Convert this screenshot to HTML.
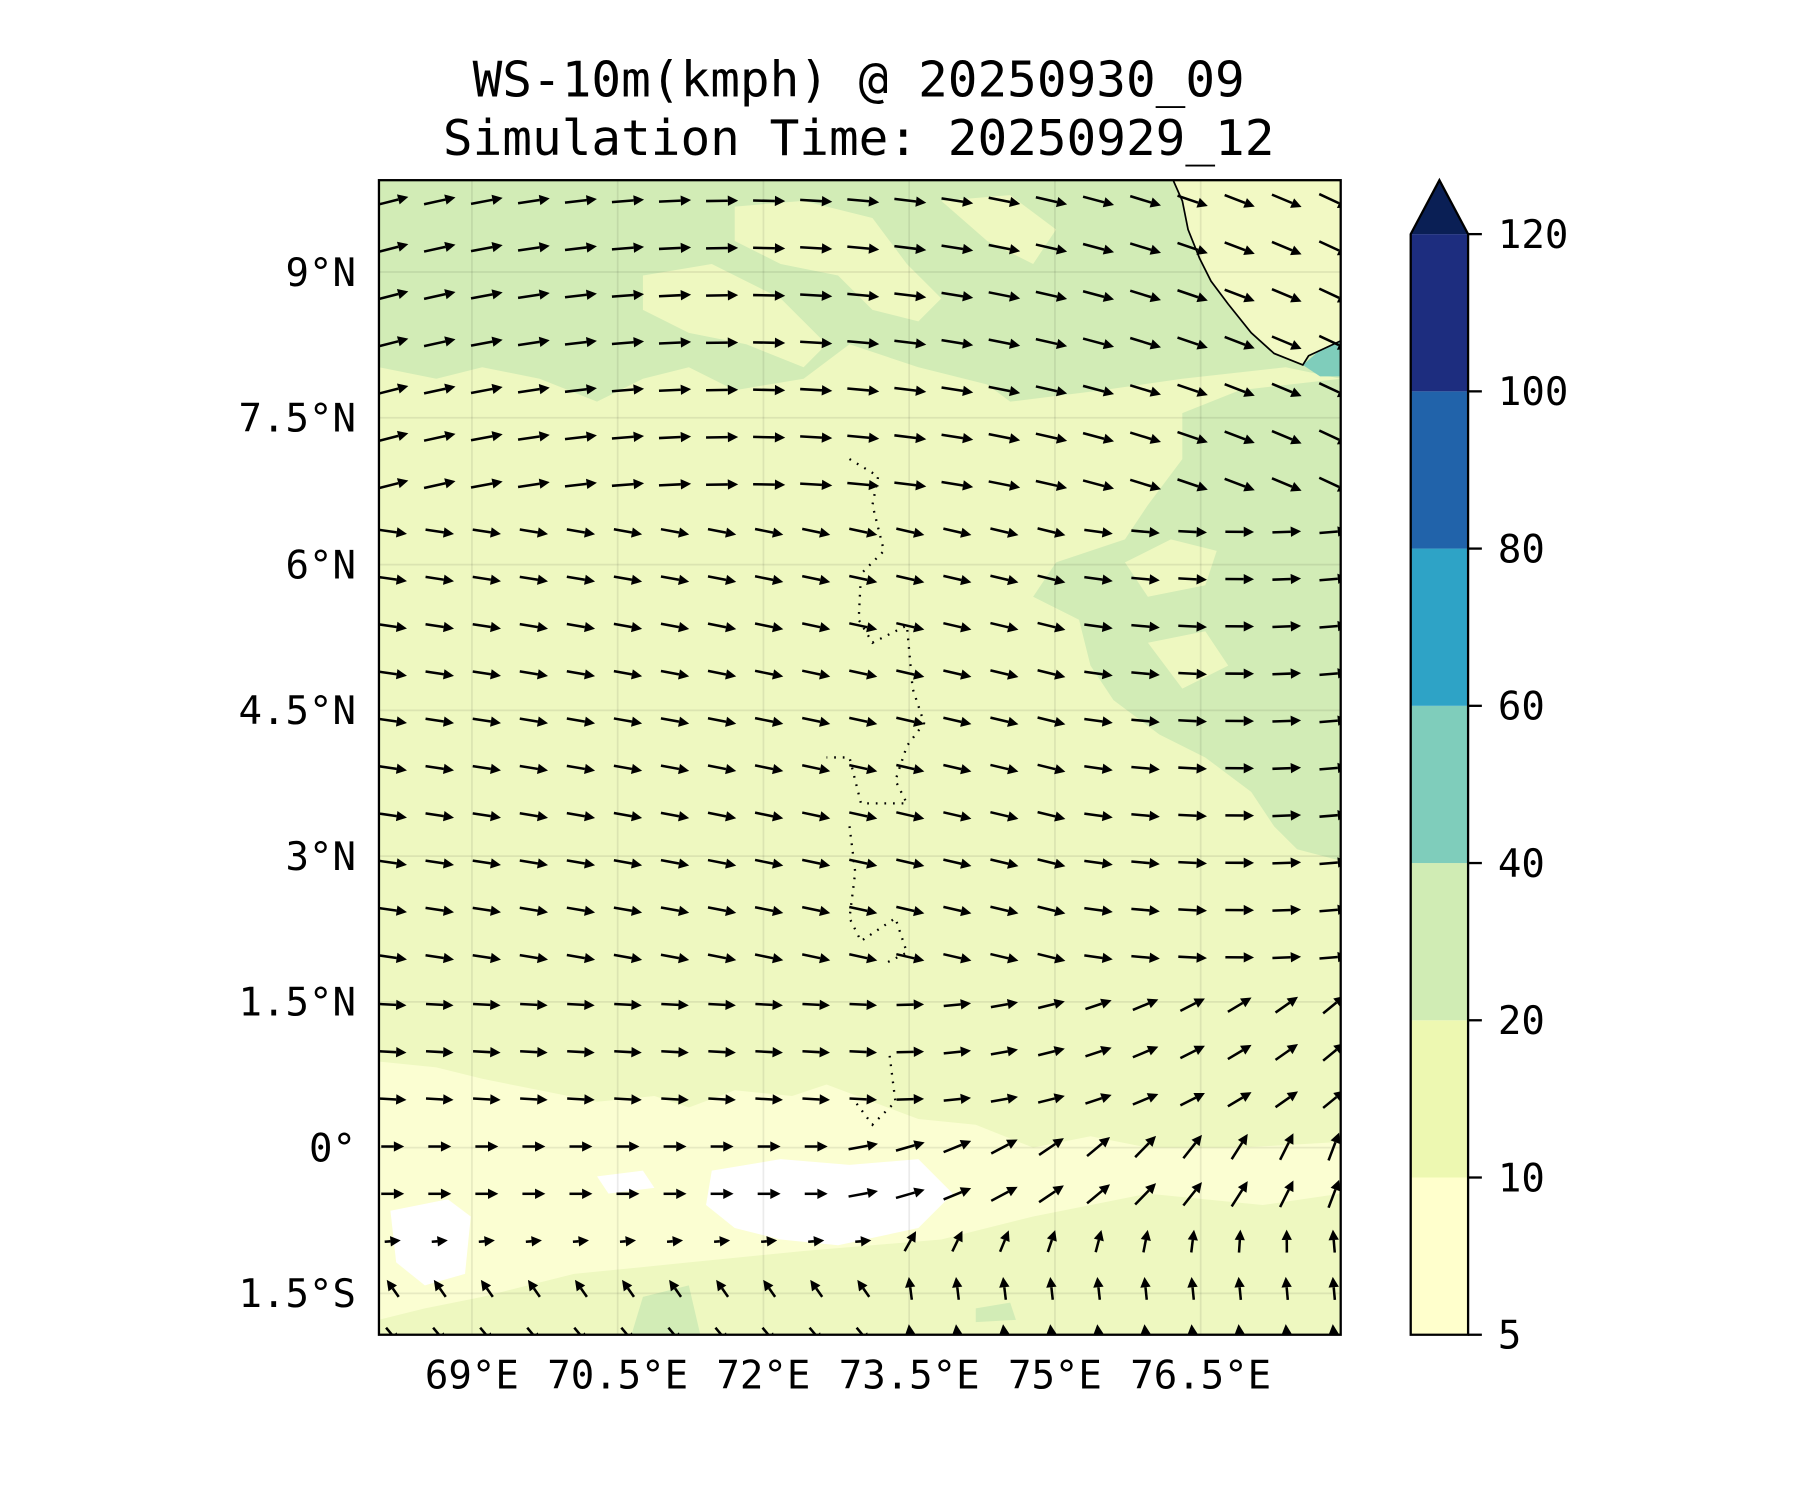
<!DOCTYPE html>
<html><head><meta charset="utf-8"><style>html,body{margin:0;padding:0;background:#fff}svg{display:block}text{font-family:"DejaVu Sans Mono","Liberation Mono",monospace;fill:#000}</style></head>
<body>
<svg id="s" width="1800" height="1500" viewBox="0 0 1568 1307" xmlns="http://www.w3.org/2000/svg">
<rect width="1568" height="1307" fill="#fff"/>
<text x="748" y="84" font-size="43" text-anchor="middle">WS-10m(kmph) @ 20250930_09</text>
<text x="748" y="135" font-size="43" text-anchor="middle">Simulation Time: 20250929_12</text>
<defs><clipPath id="cp"><rect x="330" y="157" width="838" height="1006"/></clipPath></defs>
<g clip-path="url(#cp)">
<rect x="330" y="157" width="838" height="1006" fill="#eef8c0"/>
<path d="M330 157 L1168 157 L1168 330 L1120 320 L1030 330 L960 340 L880 350 L860 335 L800 320 L740 300 L700 330 L640 340 L600 320 L560 330 L520 350 L470 330 L420 320 L380 330 L330 320 Z" fill="#d2ecb6"/>
<path d="M640 180 L700 175 L760 190 L790 230 L820 260 L800 280 L760 270 L730 240 L680 230 L640 210 Z" fill="#eef8c0"/>
<path d="M560 240 L620 230 L680 260 L720 300 L700 320 L650 300 L600 290 L560 270 Z" fill="#eef8c0"/>
<path d="M820 175 L880 170 L920 200 L900 230 L860 210 Z" fill="#eef8c0"/>
<path d="M1070 170 L1100 175 L1120 230 L1110 260 L1080 240 Z" fill="#eef8c0"/>
<path d="M1168 330 L1168 750 L1130 740 L1110 720 L1090 690 L1050 660 L1010 640 L970 610 L950 580 L940 540 L900 520 L920 490 L980 470 L1000 440 L1030 400 L1030 360 L1080 340 Z" fill="#d2ecb6"/>
<path d="M980 490 L1020 470 L1060 480 L1050 510 L1000 520 Z" fill="#eef8c0"/>
<path d="M1000 560 L1050 550 L1070 580 L1030 600 Z" fill="#eef8c0"/>
<path d="M560 1130 L600 1120 L610 1163 L550 1163 Z" fill="#d2ecb6"/>
<path d="M850 1140 L880 1135 L885 1150 L850 1152 Z" fill="#d2ecb6"/>
<path d="M330 925 L380 930 L420 940 L470 950 L520 960 L570 955 L600 965 L640 950 L690 955 L720 945 L760 960 L800 975 L850 980 L900 1000 L950 990 L1000 1000 L1080 1000 L1168 995 L1168 1040 L1100 1050 L1000 1040 L900 1060 L820 1080 L700 1090 L600 1100 L500 1110 L420 1130 L370 1140 L330 1150 Z" fill="#fbfed2"/>
<path d="M620 1020 L680 1010 L740 1015 L800 1010 L830 1040 L800 1070 L730 1085 L680 1080 L640 1070 L615 1050 Z" fill="#fff"/>
<path d="M340 1055 L390 1045 L410 1060 L405 1110 L370 1120 L345 1100 Z" fill="#fff"/>
<path d="M520 1025 L560 1020 L570 1035 L530 1040 Z" fill="#fff"/>
<path d="M1022 157 L1030 175 L1035 200 L1045 225 L1055 245 L1070 265 L1090 290 L1110 308 L1135 318 L1140 310 L1168 297 L1168 157 Z" fill="#f2f9c4"/>
<path d="M1135 318 L1150 305 L1168 298 L1168 328 L1150 328 Z" fill="#7fcdbb"/>
<path d="M1022 157 L1030 175 L1035 200 L1045 225 L1055 245 L1070 265 L1090 290 L1110 308 L1135 318 L1140 310 L1168 297" fill="none" stroke="#000" stroke-width="1.5"/>
<path d="M740 400 L765 415 L760 440 L770 480 L750 500 L748 540 L760 560 L790 545 L795 600 L805 630 L790 650 L780 680 L790 700 L750 700 L740 660 L720 660 M740 720 L745 760 L740 800 L750 820 L780 800 L790 830 L770 840 M775 920 L780 960 L760 980 L745 960" fill="none" stroke="#000" stroke-width="2" stroke-dasharray="1.5 6"/>
<g stroke="#000" stroke-opacity="0.08" stroke-width="1.5">
<line x1="411" y1="157" x2="411" y2="1163"/><line x1="538" y1="157" x2="538" y2="1163"/><line x1="665" y1="157" x2="665" y2="1163"/><line x1="792" y1="157" x2="792" y2="1163"/><line x1="919" y1="157" x2="919" y2="1163"/><line x1="1046" y1="157" x2="1046" y2="1163"/>
<line x1="330" y1="237" x2="1168" y2="237"/><line x1="330" y1="364" x2="1168" y2="364"/><line x1="330" y1="492" x2="1168" y2="492"/><line x1="330" y1="619" x2="1168" y2="619"/><line x1="330" y1="746" x2="1168" y2="746"/><line x1="330" y1="873" x2="1168" y2="873"/><line x1="330" y1="1000" x2="1168" y2="1000"/><line x1="330" y1="1127" x2="1168" y2="1127"/>
</g>
<g id="arr"></g>
</g>
<rect x="330" y="157" width="838" height="1006" fill="none" stroke="#000" stroke-width="2"/>
<g font-size="34" text-anchor="end">
<text x="310" y="249">9°N</text><text x="310" y="376">7.5°N</text><text x="310" y="504">6°N</text><text x="310" y="631">4.5°N</text><text x="310" y="758">3°N</text><text x="310" y="885">1.5°N</text><text x="310" y="1012">0°</text><text x="310" y="1139">1.5°S</text>
</g>
<g font-size="34" text-anchor="middle">
<text x="411" y="1210">69°E</text><text x="538" y="1210">70.5°E</text><text x="665" y="1210">72°E</text><text x="792" y="1210">73.5°E</text><text x="919" y="1210">75°E</text><text x="1046" y="1210">76.5°E</text>
</g>
<rect x="1229" y="1026" width="50" height="137" fill="#ffffcc"/>
<rect x="1229" y="889" width="50" height="137" fill="#edf8b1"/>
<rect x="1229" y="752" width="50" height="137" fill="#d0ecb4"/>
<rect x="1229" y="615" width="50" height="137" fill="#7fcdbb"/>
<rect x="1229" y="478" width="50" height="137" fill="#2ea3c6"/>
<rect x="1229" y="341" width="50" height="137" fill="#2163aa"/>
<rect x="1229" y="204" width="50" height="137" fill="#1d2d7f"/>
<path d="M1229 204 L1254 157 L1279 204 Z" fill="#0a1f55"/>
<path d="M1229 1163 L1229 204 L1254 157 L1279 204 L1279 1163 Z" fill="none" stroke="#000" stroke-width="2"/>
<g stroke="#000" stroke-width="2"><line x1="1279" y1="204" x2="1291" y2="204"/><line x1="1279" y1="341" x2="1291" y2="341"/><line x1="1279" y1="478" x2="1291" y2="478"/><line x1="1279" y1="615" x2="1291" y2="615"/><line x1="1279" y1="752" x2="1291" y2="752"/><line x1="1279" y1="889" x2="1291" y2="889"/><line x1="1279" y1="1026" x2="1291" y2="1026"/><line x1="1279" y1="1163" x2="1291" y2="1163"/></g>
<g font-size="34"><text x="1305" y="216">120</text><text x="1305" y="353">100</text><text x="1305" y="490">80</text><text x="1305" y="627">60</text><text x="1305" y="764">40</text><text x="1305" y="901">20</text><text x="1305" y="1038">10</text><text x="1305" y="1175">5</text></g>
</svg>
<script>
(function(){
var g=document.getElementById('arr'),h='';
function L(a,b,t){return a+(b-a)*t;}
for(var r=0;r<25;r++){
 var y=175+r*41.2, fy=(y-157)/1006;
 for(var c=0;c<21;c++){
  var x=342+c*41, fx=(x-330)/838, ang, len=26;
  if(fy<0.3){ang=L(15,-25,fx);len=28;}
  else if(fy<0.68){ang=fx<0.7?L(-8,-14,fx/0.7):L(-10,5,(fx-0.7)/0.3);len=25;}
  else if(fy<0.8){ang=fx<0.5?-3:L(-3,40,(fx-0.5)/0.5);len=24;}
  else if(fy<0.88){ang=fx<0.5?0:L(10,70,(fx-0.5)/0.5);len=fx<0.5?20:26;}
  else if(fy<0.92){ang=fx<0.55?5:L(60,95,(fx-0.55)/0.45);len=fx<0.55?14:20;}
  else {ang=fx<0.55?(r%2?125:-50):L(100,95,fx);len=fx<0.55?18:20;}
  var a=-ang*Math.PI/180, dx=Math.cos(a), dy=Math.sin(a);
  var x0=x-dx*len/2,y0=y-dy*len/2,x1=x+dx*len/2,y1=y+dy*len/2;
  var hl=9,hw=4.5,bx=x1-dx*hl,by=y1-dy*hl,px=-dy,py=dx;
  h+='<line x1="'+x0.toFixed(1)+'" y1="'+y0.toFixed(1)+'" x2="'+bx.toFixed(1)+'" y2="'+by.toFixed(1)+'" stroke="#000" stroke-width="2.2"/>';
  h+='<polygon points="'+x1.toFixed(1)+','+y1.toFixed(1)+' '+(bx+px*hw).toFixed(1)+','+(by+py*hw).toFixed(1)+' '+(bx-px*hw).toFixed(1)+','+(by-py*hw).toFixed(1)+'" fill="#000"/>';
 }
}
g.innerHTML=h;
})();
</script>
</body></html>
